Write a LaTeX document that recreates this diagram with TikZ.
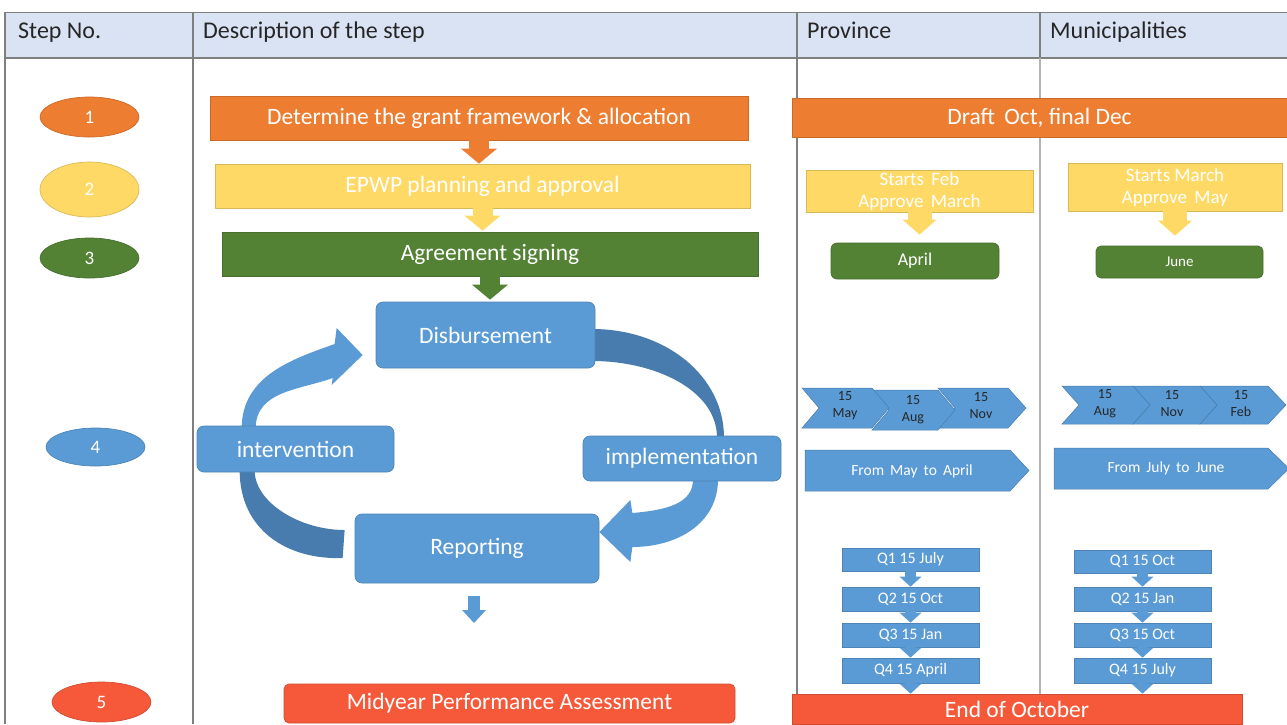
\documentclass[tikz,border=0pt]{standalone}
\usepackage{fontspec}
\setmainfont{Carlito}
\usetikzlibrary{arrows.meta,calc,shapes.geometric}
\definecolor{cOrange}{HTML}{ED7D31}
\definecolor{cYellow}{HTML}{FFD966}
\definecolor{cGreen}{HTML}{548235}
\definecolor{cBlue}{HTML}{5B9BD5}
\definecolor{cDark}{HTML}{497CAE}
\definecolor{cRed}{HTML}{F5593A}
\definecolor{cHead}{HTML}{DAE3F3}
\definecolor{cLine}{HTML}{7F7F7F}
\definecolor{cLight}{HTML}{B4B4B4}
\definecolor{cEdge}{HTML}{A9BCD3}
\definecolor{cTxt}{HTML}{262626}
\pgfdeclarelayer{bg}
\pgfsetlayers{bg,main}
\newcommand\fs[1]{\fontsize{#1}{#1}\selectfont}
\begin{document}
\begin{tikzpicture}[x=1pt,y=1pt,
  box/.style={draw=#1!85!black, line width=0.7pt, fill=#1, text=white, inner sep=0pt, font=\fs{23.5}},
  rbox/.style={box=#1, rounded corners=7pt},
  stepell/.style={ellipse, draw=#1!85!black, line width=0.7pt, fill=#1, text=white, minimum width=99pt, inner sep=0pt, font=\fs{19}},
  hdr/.style={anchor=base west, text=cTxt, inner sep=0pt, font=\fs{24}},
  small/.style={text=white, inner sep=0pt, align=center, font=\fontsize{19}{22}\selectfont},
  chevtxt/.style={text=cTxt, inner sep=0pt, align=center, font=\fontsize{14}{17}\selectfont},
  chev/.style={fill=cBlue, draw=cBlue!80!black, line width=0.5pt},
  qbox/.style={box=cBlue, minimum width=137pt, font=\fs{16}},
  barr/.style n args={4}{draw=#1, line width=#2, -{Triangle[width=#3, length=#4, line width=0pt]}}
]
\useasboundingbox (0,0) rectangle (1287,-724);
% table
\fill[cHead] (5,-12) rectangle (1287,-58);
\draw[cLine, line width=1pt] (5,-12) -- (1287,-12);
\draw[cLine, line width=1.8pt] (5,-58) -- (1287,-58);
\draw[cLine, line width=1.2pt] (5,-12) -- (5,-724);
\draw[cLine, line width=1.2pt] (193,-12) -- (193,-724);
\draw[cLine, line width=1.4pt] (797,-12) -- (797,-724);
\draw[cLight, line width=2.5pt] (1040,-58) -- (1040,-724);
\draw[cLine, line width=2pt] (1040,-12) -- (1040,-58);
\node[hdr] (hStep) at (18,-38) {Step No.};
\node[hdr] (hDesc) at (203,-38) {Description of the step};
\node[hdr] (hProv) at (807,-38) {Province};
\node[hdr] (hMun) at (1050,-38) {Municipalities};
% step numbers
\node[stepell=cOrange, minimum height=40pt] (s1) at (89.5,-117) {1};
\node[stepell=cYellow, minimum height=55pt] (s2) at (89.5,-189.5) {2};
\node[stepell=cGreen, minimum height=40pt] (s3) at (89.5,-258) {3};
\node[stepell=cBlue, minimum height=38pt] (s4) at (95.5,-447) {4};
\node[stepell=cRed, minimum height=40pt] (s5) at (101.5,-702) {5};
% description column
\node[box=cOrange, minimum width=538pt, minimum height=44pt] (d1) at (479,-118) {Determine the grant framework \& allocation};
\node[box=cYellow, minimum width=535pt, minimum height=44pt] (d2) at (482.5,-186) {EPWP planning and approval};
\node[box=cGreen, minimum width=536pt, minimum height=44pt] (d3) at (490,-254) {Agreement signing};
\node[rbox=cBlue, minimum width=219pt, minimum height=66pt] (disb) at (485.5,-335) {Disbursement};
\node[rbox=cBlue, minimum width=197pt, minimum height=46pt] (interv) at (295.5,-449) {intervention};
\node[rbox=cBlue, minimum width=198pt, minimum height=45pt] (impl) at (682,-458.5) {implementation};
\node[rbox=cBlue, minimum width=244pt, minimum height=69pt] (report) at (477,-548.5) {Reporting};
\node[box=cRed, rounded corners=5pt, minimum width=451pt, minimum height=39pt] (mid) at (509.5,-703.5) {Midyear Performance Assessment};
\draw[barr={cOrange}{20pt}{36pt}{15pt}, shorten <=-1pt] (d1.south) -- (d1.south |- d2.north);
\draw[barr={cYellow}{20pt}{36pt}{15pt}, shorten <=-1pt, shorten >=1pt] (d2.south) -- (d2.south |- d3.north);
\draw[barr={cGreen}{20pt}{36pt}{15pt}, shorten <=-1pt, shorten >=2pt] (d3.south) -- (d3.south |- disb.north);
\coordinate (ra) at (474,-596);
\coordinate (rb) at (474,-623);
\draw[barr={cBlue}{12pt}{24pt}{13pt}] (ra) -- (rb);
% cycle bands
\begin{pgfonlayer}{bg}
\fill[cBlue] ($(interv.north west)+(45,-3)$) .. controls +(0,53) and +(-42,-15) .. ($(disb.west)+(-41,-9)$)
  -- ($(disb.west)+(-39,7)$) -- ($(disb.west)+(-13,-20)$) -- ($(disb.west)+(-44,-50)$) -- ($(disb.west)+(-43,-43)$)
  .. controls +(-33,-12) and +(0,38) .. ($(interv.north west)+(59,-3)$) -- cycle;
\fill[cDark] ($(disb.east)+(-3,6)$) .. controls +(73,0) and +(0,62) .. ($(impl.north)+(42,-2)$)
  -- ($(impl.north)+(35,-2)$) .. controls +(0,48) and +(62,0) .. ($(disb.east)+(-3,-26)$) -- cycle;
\fill[cBlue] ($(impl.south)+(36,2)$) .. controls +(0,-44) and +(45,0) .. ($(report.east)+(33,1.5)$)
  -- ($(report.east)+(31,-13.5)$) -- ($(report.east)+(0,16.5)$) -- ($(report.east)+(31,48.5)$) -- ($(report.east)+(33,35.5)$)
  .. controls +(35,3) and +(0,-24) .. ($(impl.south)+(11,2)$) -- cycle;
\fill[cDark] ($(interv.south west)+(43,2)$) .. controls +(0,-60) and +(-55,-2) .. ($(report.west)+(-12,-9.5)$)
  -- ($(report.west)+(-10,18.5)$) .. controls +(-45,0) and +(0,-32) .. ($(interv.south west)+(58,2)$) -- cycle;
\end{pgfonlayer}
% province / municipalities
\node[box=cOrange, minimum width=495pt, minimum height=39pt] (draft) at (1039.5,-117.5) {Draft\, Oct, final Dec};
\node[box=cYellow, small, minimum width=227pt, minimum height=42pt] (py) at (919.5,-191) {Starts\, Feb\\Approve\, March};
\node[rbox=cGreen, rounded corners=6pt, minimum width=168pt, minimum height=36pt, font=\fs{18}] (april) at (915,-261) {April};
\node[box=cYellow, small, minimum width=214pt, minimum height=48pt] (my) at (1175,-187) {Starts March\\Approve\, May};
\node[rbox=cGreen, rounded corners=5pt, minimum width=167pt, minimum height=32pt, font=\fs{15}] (june) at (1179.5,-262) {June};
\draw[barr={cYellow}{24pt}{34pt}{15pt}, shorten <=-1pt, shorten >=8pt] (py.south) -- (py.south |- april.north);
\draw[barr={cYellow}{24pt}{34pt}{15pt}, shorten <=-1pt, shorten >=10pt] (my.south) -- (my.south |- june.north);
% chevrons province
\draw[chev] (938,-388) -- (1008,-388) -- (1026,-408) -- (1008,-428) -- (938,-428) -- (955,-408) -- cycle;
\draw[chev] (872,-390) -- (938,-390) -- (955,-410) -- (938,-430) -- (872,-430) -- (889,-410) -- cycle;
\draw[chev] (802,-388) -- (872,-388) -- (889,-408) -- (872,-428) -- (802,-428) -- (819,-408) -- cycle;
\node[chevtxt] (pc1) at (845,-406) {15\\May};
\node[chevtxt] (pc2) at (913,-410) {15\\Aug};
\node[chevtxt] (pc3) at (981,-406) {15\\Nov};
% chevrons municipalities
\draw[chev] (1200,-386) -- (1268,-386) -- (1286,-405) -- (1268,-424) -- (1200,-424) -- (1217,-405) -- cycle;
\draw[chev] (1133,-386) -- (1200,-386) -- (1217,-405) -- (1200,-424) -- (1133,-424) -- (1150,-405) -- cycle;
\draw[chev] (1062,-386) -- (1133,-386) -- (1150,-405) -- (1133,-424) -- (1062,-424) -- (1079,-405) -- cycle;
\node[chevtxt] (mc1) at (1105,-404) {15\\Aug};
\node[chevtxt] (mc2) at (1172,-404) {15\\Nov};
\node[chevtxt] (mc3) at (1241,-404) {15\\Feb};
% pentagons
\draw[chev] (805,-450) -- (1010,-450) -- (1029,-470.5) -- (1010,-491) -- (805,-491) -- cycle;
\node[text=white, inner sep=0pt, font=\fs{15.5}] (pp) at (912,-471) {From\, May\, to\, April};
\draw[chev] (1054,-448) -- (1268,-448) -- (1289,-468.5) -- (1268,-489) -- (1054,-489) -- cycle;
\node[text=white, inner sep=0pt, font=\fs{15.5}] (mp) at (1166,-468) {From\, July\, to\, June};
% quarterly reports
\node[qbox, minimum height=23pt] (q1p) at (910.5,-559.5) {Q1 15 July};
\node[qbox, minimum height=24pt] (q2p) at (910.5,-599) {Q2 15 Oct};
\node[qbox, minimum height=24pt] (q3p) at (910.5,-635) {Q3 15 Jan};
\node[qbox, minimum height=25pt] (q4p) at (910.5,-670.5) {Q4 15 April};
\node[qbox, minimum height=23pt] (q1m) at (1142.5,-561.5) {Q1 15 Oct};
\node[qbox, minimum height=24pt] (q2m) at (1142.5,-599) {Q2 15 Jan};
\node[qbox, minimum height=24pt] (q3m) at (1142.5,-635) {Q3 15 Oct};
\node[qbox, minimum height=25pt] (q4m) at (1142.5,-670.5) {Q4 15 July};
\node[box=cRed, minimum width=450pt, minimum height=30pt] (endoct) at (1017,-709) {End of October};
\foreach \a/\b in {q1p/q2p,q2p/q3p,q3p/q4p,q1m/q2m,q2m/q3m,q3m/q4m}
  \draw[barr={cBlue}{11pt}{22pt}{10pt}, shorten <=-1pt] (\a.south) -- (\b.north);
\draw[barr={cBlue}{11pt}{22pt}{10pt}, shorten <=-1pt] (q4p.south) -- (q4p.south |- endoct.north);
\draw[barr={cBlue}{11pt}{22pt}{10pt}, shorten <=-1pt] (q4m.south) -- (q4m.south |- endoct.north);
\end{tikzpicture}
\end{document}
